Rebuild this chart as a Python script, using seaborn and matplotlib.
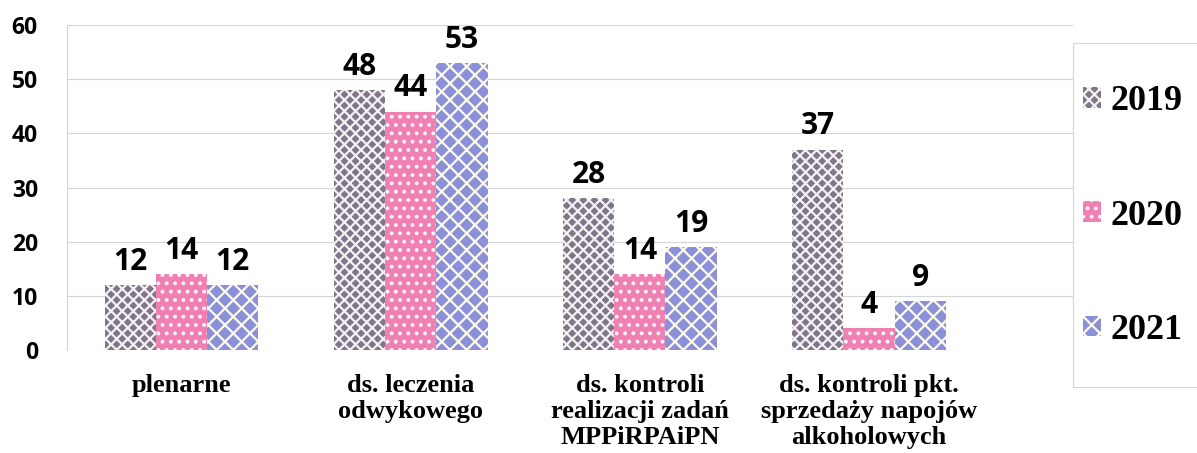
import numpy as np
import pandas as pd
import seaborn as sns
import matplotlib.pyplot as plt
from matplotlib.patches import Patch, Rectangle

categories = ["plenarne", "ds. leczenia\nodwykowego", "ds. kontroli\nrealizacji zadań\nMPPiRPAiPN",
              "ds. kontroli pkt.\nsprzedaży napojów\nalkoholowych"]
years = ["2019", "2020", "2021"]
v2019 = [12, 48, 28, 37]
v2020 = [14, 44, 14, 4]
v2021 = [12, 53, 19, 9]

df = pd.DataFrame({
    "kategoria": categories * 3,
    "rok": np.repeat(years, len(categories)),
    "liczba": v2019 + v2020 + v2021,
})

colors = {"2019": "#7f7787", "2020": "#f080b2", "2021": "#8c90d8"}
hatches = {"2019": "xxx", "2020": "..", "2021": "xx"}
hatch_colors = {"2019": "#f4f0f4", "2020": "#fff4f8", "2021": "#fdfbe8"}

sns.set_style("white")
plt.rcParams["hatch.linewidth"] = 1.6
plt.rcParams["text.color"] = "black"
plt.rcParams["xtick.color"] = "black"
plt.rcParams["ytick.color"] = "black"

fig = plt.figure(figsize=(11.97, 4.53), dpi=100)
ax = fig.add_axes([0.056, 0.227, 0.8404, 0.718])

sns.barplot(data=df, x="kategoria", y="liczba", hue="rok", palette=colors,
            width=0.67, ax=ax, legend=False, saturation=1)

for cont, yr in zip(ax.containers, years):
    for bar in cont:
        bar.set_hatch(hatches[yr])
        bar.set_edgecolor(hatch_colors[yr])
        bar.set_linewidth(0)
    ax.bar_label(cont, padding=6, fontsize=21.5, fontweight="bold", family="Open Sans")

ax.set_ylim(0, 60)
ax.set_xlim(-0.5, 3.89)
ax.set_yticks(range(0, 61, 10))
ax.yaxis.grid(True, color="#d4d4d4", linewidth=0.8)
ax.set_axisbelow(True)
ax.set_xlabel("")
ax.set_ylabel("")
for s in ["top", "right", "bottom"]:
    ax.spines[s].set_visible(False)
ax.spines["left"].set_color("#d4d4d4")
ax.spines["left"].set_linewidth(0.8)
ax.tick_params(axis="y", length=9, color="#d4d4d4", labelcolor="black", pad=12, labelsize=16.5)
ax.tick_params(axis="x", length=0, labelcolor="black", pad=17)
for t in ax.get_yticklabels():
    t.set_fontweight("bold")
    t.set_family("Open Sans")
for t in ax.get_xticklabels():
    t.set_fontweight("bold")
    t.set_family("Liberation Serif")
    t.set_fontsize(19)
    t.set_linespacing(1.18)

# legend box (runs off the right edge like in the original)
fig.patches.append(Rectangle((0.8964, 0.1457), 0.12, 0.759, transform=fig.transFigure,
                             facecolor="none", edgecolor="#d4d4d4", linewidth=0.8))
handles = [Patch(facecolor=colors[y], hatch=hatches[y], edgecolor=hatch_colors[y], linewidth=0)
           for y in years]
fig.legend(handles, years, loc="center left", bbox_to_anchor=(0.905, 0.523),
           frameon=False, prop={"family": "Liberation Serif", "weight": "bold", "size": 26},
           labelspacing=2.25, handlelength=0.5, handleheight=0.5, handletextpad=0.25,
           borderpad=0, borderaxespad=0)

fig.savefig("out.png", dpi=100)
